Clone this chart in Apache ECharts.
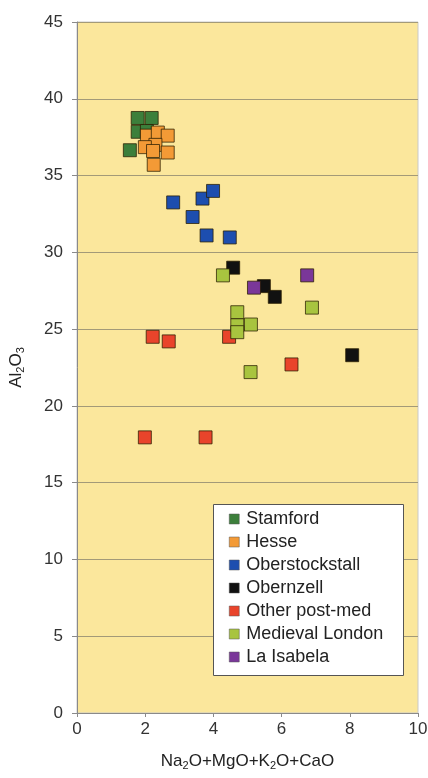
<!DOCTYPE html>
<html><head><meta charset="utf-8">
<script src="https://cdn.jsdelivr.net/npm/echarts@6/dist/echarts.min.js"></script>
<style>html,body{margin:0;padding:0;background:#fff}#c{width:428px;height:778px}</style>
</head><body><div id="c"></div>
<script>
var seriesNames = ['Stamford','Hesse','Oberstockstall','Obernzell','Other post-med','Medieval London','La Isabela'];
var seriesColors = ['#3c7f3b','#f39a36','#1d4eaf','#111111','#e9442b','#a8c43f','#7a3799'];
var stamford = [[1.78,38.75],[2.19,38.75],[1.78,37.85],[2.05,37.9],[1.55,36.65]];
var hesse = [[2.05,37.6],[2.37,37.8],[2.66,37.6],[2.3,37.0],[1.99,36.85],[2.23,36.6],[2.66,36.5],[2.25,35.7]];
var oberstockstall = [[2.82,33.25],[3.68,33.5],[3.99,34.0],[3.39,32.3],[3.8,31.1],[4.48,30.97]];
var obernzell = [[4.58,29.0],[5.48,27.8],[5.8,27.1],[8.07,23.3]];
var otherPostMed = [[2.22,24.5],[2.69,24.2],[4.46,24.5],[6.29,22.7],[1.99,17.95],[3.77,17.95]];
var medievalLondon = [[4.28,28.5],[4.7,26.1],[4.7,25.25],[5.1,25.3],[4.7,24.8],[5.09,22.2],[6.89,26.4]];
var laIsabela = [[5.19,27.7],[6.75,28.5]];
var seriesData = [stamford,hesse,oberstockstall,obernzell,otherPostMed,medievalLondon,laIsabela];
var xTicks = [0,2,4,6,8,10];
var yTicks = [0,5,10,15,20,25,30,35,40,45];

var chart = echarts.init(document.getElementById('c'));
var font = 'Liberation Sans, Arial, sans-serif';
var series = seriesNames.map(function(n,i){
  return {name:n,type:'scatter',symbol:'rect',symbolSize:13,data:seriesData[i],
    itemStyle:{color:seriesColors[i],borderColor:'rgba(40,30,0,0.75)',borderWidth:1,opacity:1},
    emphasis:{disabled:true}};
});
var rich = {a:{fontFamily:font,fontSize:17,color:'#222'},s:{fontFamily:font,fontSize:11,color:'#222',verticalAlign:'bottom',padding:[9,0,0,0]}};
chart.setOption({
  animation:false,
  textStyle:{fontFamily:font},
  grid:{left:77,right:10,top:22,bottom:65,outerBoundsMode:'none',containLabel:false,show:true,backgroundColor:'#fbe79c',borderColor:'#c9c9c9',borderWidth:1},
  graphic:[{type:'rect',left:213,top:504,z:50,shape:{width:190,height:171},style:{fill:'#ffffff',stroke:'#555',lineWidth:1}}],
  legend:{orient:'vertical',left:229,top:510,padding:0,z:60,
    itemWidth:10,itemHeight:10,itemGap:5,icon:'rect',align:'left',
    itemStyle:{borderColor:'#555',borderWidth:0.5},
    textStyle:{fontFamily:font,fontSize:18,color:'#222',lineHeight:18,padding:[0,0,0,2]},
    data:seriesNames},
  xAxis:{type:'value',min:0,max:10,interval:2,
    name:'{a|Na}{s|2}{a|O+MgO+K}{s|2}{a|O+CaO}',nameLocation:'middle',nameGap:38,
    nameTextStyle:{rich:rich},
    axisLine:{show:true,lineStyle:{color:'#8a8a8a'}},
    axisTick:{show:true,length:4,lineStyle:{color:'#8a8a8a'}},
    axisLabel:{fontFamily:font,fontSize:17,color:'#333',margin:8,formatter:function(v){return xTicks.indexOf(v)>=0?String(v):'';}},
    splitLine:{show:false}},
  yAxis:{type:'value',min:0,max:45,interval:5,
    name:'{a|Al}{s|2}{a|O}{s|3}',nameLocation:'middle',nameGap:51,nameRotate:90,
    nameTextStyle:{rich:rich},
    axisLine:{show:true,lineStyle:{color:'#8a8a8a'}},
    axisTick:{show:true,length:5,lineStyle:{color:'#8a8a8a'}},
    axisLabel:{fontFamily:font,fontSize:17,color:'#333',margin:14,formatter:function(v){return yTicks.indexOf(v)>=0?String(v):'';}},
    splitLine:{show:true,lineStyle:{color:'#a39a78',width:1}}},
  series:series
});
</script></body></html>
